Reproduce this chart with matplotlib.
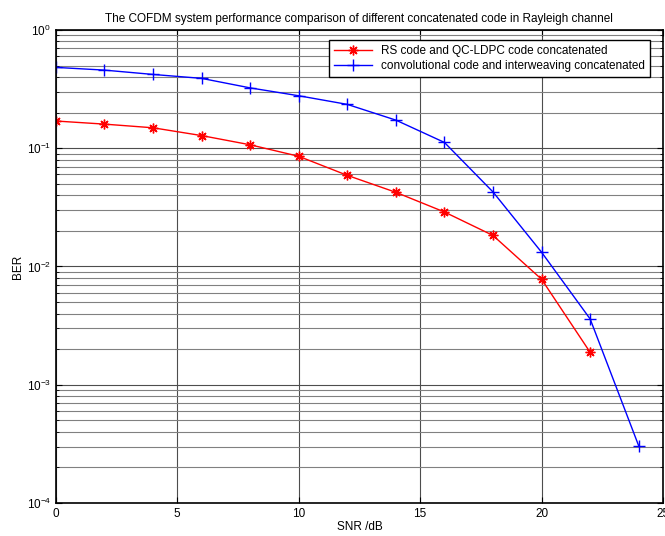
import numpy as np
import matplotlib
matplotlib.use("Agg")
from matplotlib import pyplot as plt
from matplotlib.ticker import LogLocator, NullFormatter

plt.rcParams['font.family'] = ['Liberation Sans', 'DejaVu Sans']
plt.rcParams['mathtext.default'] = 'regular'

# SNR (dB) points and BER
snr_rs = [0, 2, 4, 6, 8, 10, 12, 14, 16, 18, 20, 22]
ber_rs = [0.170, 0.160, 0.149, 0.128, 0.107, 0.0855, 0.059, 0.0424, 0.0289, 0.0183, 0.0078, 0.00188]

snr_conv = [0, 2, 4, 6, 8, 10, 12, 14, 16, 18, 20, 22, 24]
ber_conv = [0.483, 0.458, 0.421, 0.390, 0.324, 0.278, 0.235, 0.173, 0.112, 0.0427, 0.0132, 0.0036, 0.000304]

labels = ["RS code and QC-LDPC code concatenated",
          "convolutional code and interweaving concatenated"]
title = "The COFDM system performance comparison of different concatenated code in Rayleigh channel"

fig = plt.figure(figsize=(6.65, 5.36), dpi=100)
ax = fig.add_axes([0.084, 0.0616, 0.913, 0.8824])

# matlab style asterisk: 8 arms
ax.semilogy(snr_rs, ber_rs, color="red", marker=(8, 2, 0), markersize=7, markeredgewidth=1.0,
            linewidth=1.0, label=labels[0])
ax.semilogy(snr_conv, ber_conv, color="blue", marker="+", markersize=8, linewidth=1.0, label=labels[1])

ax.set_xlim(0, 25)
ax.set_ylim(1e-4, 1)
ax.set_xticks([0, 5, 10, 15, 20, 25])
ax.yaxis.set_major_locator(LogLocator(base=10, numticks=10))
ax.yaxis.set_minor_locator(LogLocator(base=10, subs=np.arange(2, 10), numticks=20))
ax.yaxis.set_minor_formatter(NullFormatter())

ax.grid(True, which="major", color="0.3", linestyle="-", linewidth=0.8)
ax.grid(True, which="minor", axis="y", color="0.5", linestyle="-", linewidth=0.8)

ax.tick_params(which="both", direction="in", top=True, right=True, labelsize=8.5)
ax.tick_params(which="major", length=4)
ax.tick_params(which="minor", length=2)
for sp in ax.spines.values():
    sp.set_linewidth(1.2)

ax.set_title(title, fontsize=8.5, pad=6)
ax.set_xlabel("SNR /dB", fontsize=8.5, labelpad=1)
ax.set_ylabel("BER", fontsize=8.5, labelpad=2)

leg = ax.legend(loc="upper right", bbox_to_anchor=(0.9785, 0.9785), fontsize=8.5, fancybox=False,
                framealpha=1, edgecolor="black", borderaxespad=0, handlelength=3.2,
                borderpad=0.4, labelspacing=0.3)
leg.get_frame().set_linewidth(1.0)

fig.savefig("out.png", dpi=100)
